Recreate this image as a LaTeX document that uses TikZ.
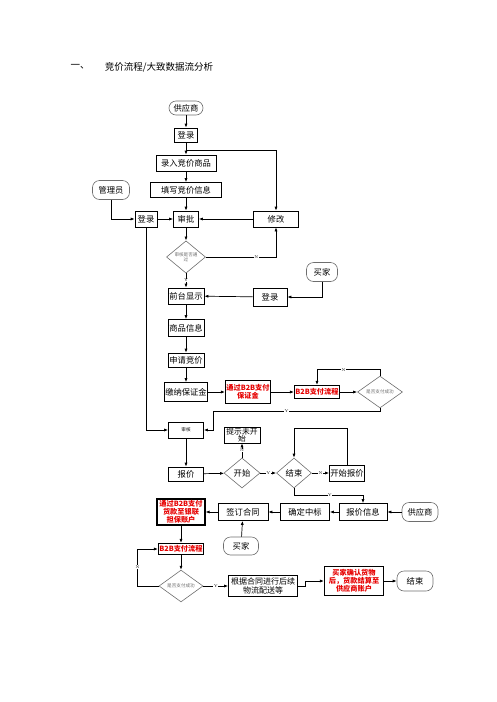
\documentclass[tikz,border=0pt]{standalone}
\usepackage{fontspec}
\usepackage{tikz}
\usetikzlibrary{arrows.meta,positioning,shapes.geometric,calc}
\newfontfamily\cjk{Noto Sans CJK SC}
\definecolor{frameGray}{RGB}{110,110,110}
\definecolor{payRed}{RGB}{230,0,0}

\begin{document}
\begin{tikzpicture}[x=1pt,y=-1pt,
  box/.style={draw,line width=0.7pt,inner sep=0.5pt,align=center,font=\cjk\fontsize{8.3}{9.5}\selectfont},
  paybox/.style={box,line width=1.1pt,text=payRed,font=\cjk\bfseries\fontsize{7.2}{8.1}\selectfont},
  term/.style={draw=frameGray,line width=0.6pt,rounded corners=7pt,inner sep=0.5pt,font=\cjk\fontsize{8.3}{9.5}\selectfont},
  decide/.style={diamond,draw=frameGray,line width=0.6pt,inner sep=0pt,align=center,text=frameGray,font=\cjk\fontsize{4.6}{5.2}\selectfont},
  yn/.style={fill=white,inner sep=0.4pt,font=\fontsize{4}{4}\selectfont},
  arrow/.style={-{Latex[length=4pt,width=3pt]},line width=0.7pt}
]
  \useasboundingbox (0,0) rectangle (496,702);

  \node[font=\cjk\fontsize{9.5}{11}\selectfont] (secno) at (80,67) {一、};
  \node[font=\cjk\fontsize{9.5}{11}\selectfont] (title) at (159,67) {竞价流程/大致数据流分析};

  \node[term,minimum width=34pt,minimum height=14pt] (sup1) at (186,108) {供应商};
  \node[box,minimum width=23pt,minimum height=14pt] (login1) at (186,135) {登录};
  \node[box,minimum width=60pt,minimum height=16pt] (entry) at (186,163) {录入竞价商品};
  \node[box,minimum width=71pt,minimum height=15pt] (fill) at (186,190) {填写竞价信息};
  \node[term,minimum width=37pt,minimum height=19pt] (admin) at (111,190) {管理员};
  \node[box,minimum width=22pt,minimum height=16pt] (login2) at (146,219) {登录};
  \node[box,minimum width=25pt,minimum height=16pt] (approve) at (186,219) {审批};
  \node[box,minimum width=45pt,minimum height=16pt] (modify) at (276,219) {修改};
  \node[decide,minimum width=39pt,minimum height=23pt] (dec1) at (186,257) {审核是否通\\过};
  \node[box,minimum width=36pt,minimum height=16pt] (front) at (186,296) {前台显示};
  \node[box,minimum width=34pt,minimum height=18pt] (login3) at (270,297) {登录};
  \node[term,minimum width=31pt,minimum height=19pt] (buyer1) at (322,272) {买家};
  \node[box,minimum width=36pt,minimum height=17pt] (goods) at (186,328) {商品信息};
  \node[box,minimum width=36pt,minimum height=14pt] (apply) at (186,360) {申请竞价};
  \node[box,minimum width=43pt,minimum height=19pt] (deposit) at (186,392) {缴纳保证金};
  \node[paybox,minimum width=45pt,minimum height=23pt] (payB2B) at (248,392) {通过B2B支付\\保证金};
  \node[paybox,minimum width=45pt,minimum height=13pt] (flow1) at (317,392) {B2B支付流程};
  \node[decide,minimum width=45pt,minimum height=27pt] (dec2) at (380,392) {是否支付成功};
  \node[box,minimum width=35pt,minimum height=16pt,font=\cjk\fontsize{4.6}{5.2}\selectfont] (review) at (186,430) {审核};
  \node[box,minimum width=36pt,minimum height=16pt,font=\cjk\fontsize{7.8}{7.6}\selectfont] (notyet) at (242,435) {提示未开\\始};
  \node[box,minimum width=35pt,minimum height=14pt] (quote) at (186,474) {报价};
  \node[decide,minimum width=36pt,minimum height=30pt,text=black,font=\cjk\fontsize{8.3}{9.5}\selectfont] (start) at (242,473) {开始};
  \node[decide,minimum width=35pt,minimum height=30pt,text=black,font=\cjk\fontsize{8.3}{9.5}\selectfont] (endd) at (294,473) {结束};
  \node[box,minimum width=35pt,minimum height=16pt] (begquote) at (347,473) {开始报价};
  \node[paybox,minimum width=48pt,minimum height=26pt] (pay2) at (181,512) {通过B2B支付\\货款至银联\\担保账户};
  \node[box,minimum width=50pt,minimum height=17pt] (sign) at (243,512) {签订合同};
  \node[box,minimum width=49pt,minimum height=17pt] (win) at (305,512) {确定中标};
  \node[box,minimum width=48pt,minimum height=17pt] (qinfo) at (363,512) {报价信息};
  \node[term,minimum width=36pt,minimum height=19pt] (sup2) at (420,512) {供应商};
  \node[term,minimum width=35pt,minimum height=18pt] (buyer2) at (241,546) {买家};
  \node[paybox,minimum width=45pt,minimum height=11pt] (flow2) at (181,549) {B2B支付流程};
  \node[decide,minimum width=44pt,minimum height=25pt] (dec3) at (181,586) {是否支付成功};
  \node[box,minimum width=69pt,minimum height=21pt,font=\cjk\fontsize{8}{8.6}\selectfont] (logistic) at (263,586) {根据合同进行后续\\物流配送等};
  \node[paybox,minimum width=59pt,minimum height=29pt] (confirm) at (354,581) {买家确认货物\\后，货款结算至\\供应商账户};
  \node[term,minimum width=36pt,minimum height=20pt] (finish) at (415,581) {结束};

  \coordinate (fork1) at (186,150);
  \coordinate (turn2) at (213,411);

  \draw[arrow] (sup1) -- (login1);
  \draw[arrow] (login1) -- (entry);
  \draw[arrow] (fork1) -| (modify.north);
  \draw[arrow] (entry) -- (fill);
  \draw[arrow] (fill) -- (approve);
  \draw[arrow] (admin.south) |- (login2.west);
  \draw[arrow] (login2) -- (approve);
  \draw[arrow] (modify) -- (approve);
  \draw[arrow] (approve) -- (dec1);
  \draw[arrow] (dec1.east) -| node[yn,pos=0.36]{N} (modify.south);
  \draw[arrow] (dec1) -- node[yn]{Y} (front);
  \draw[arrow] (buyer1.south) |- (login3.east);
  \draw[arrow] (login3) -- (front);
  \draw[arrow] (front) -- (goods);
  \draw[arrow] (goods) -- (apply);
  \draw[arrow] (apply) -- (deposit);
  \draw[arrow] (deposit) -- (payB2B);
  \draw[arrow] (payB2B) -- (flow1);
  \draw[arrow] (flow1) -- (dec2);
  \draw[arrow] (dec2.north) -- ++(0,-6) -| node[yn,pos=0.29]{N} (flow1.north);
  \draw (dec2.south) |- node[yn,pos=0.78]{Y} (turn2);
  \draw[arrow] (turn2) |- (review.east);
  \draw[arrow] (login2.south) |- (review.west);
  \draw[arrow] (review) -- (quote);
  \draw[arrow] (quote) -- (start);
  \draw[arrow] (start) -- node[yn]{N} (notyet);
  \draw[arrow] (start) -- node[yn]{Y} (endd);
  \draw[arrow] (endd) -- node[yn]{N} (begquote);
  \draw[arrow] (begquote.north) -- ++(0,-36) -| (endd.north);
  \draw[arrow] (endd.south) -- ++(0,7) -| node[yn,pos=0.26]{Y} (qinfo.north);
  \draw[arrow] (sup2) -- (qinfo);
  \draw[arrow] (qinfo) -- (win);
  \draw[arrow] (win) -- (sign);
  \draw[arrow] (sign) -- (pay2);
  \draw[arrow] (buyer2) -- (sign);
  \draw[arrow] (pay2) -- (flow2);
  \draw[arrow] (flow2) -- (dec3);
  \draw[arrow] (dec3.west) -- ++(-21,0) |- node[yn,pos=0.26]{N} (flow2.west);
  \draw[arrow] (dec3) -- node[yn]{Y} (logistic);
  \draw[arrow] (logistic.east) -- ++(7,0) |- (confirm.west);
  \draw[arrow] (confirm) -- (finish);
\end{tikzpicture}
\end{document}
